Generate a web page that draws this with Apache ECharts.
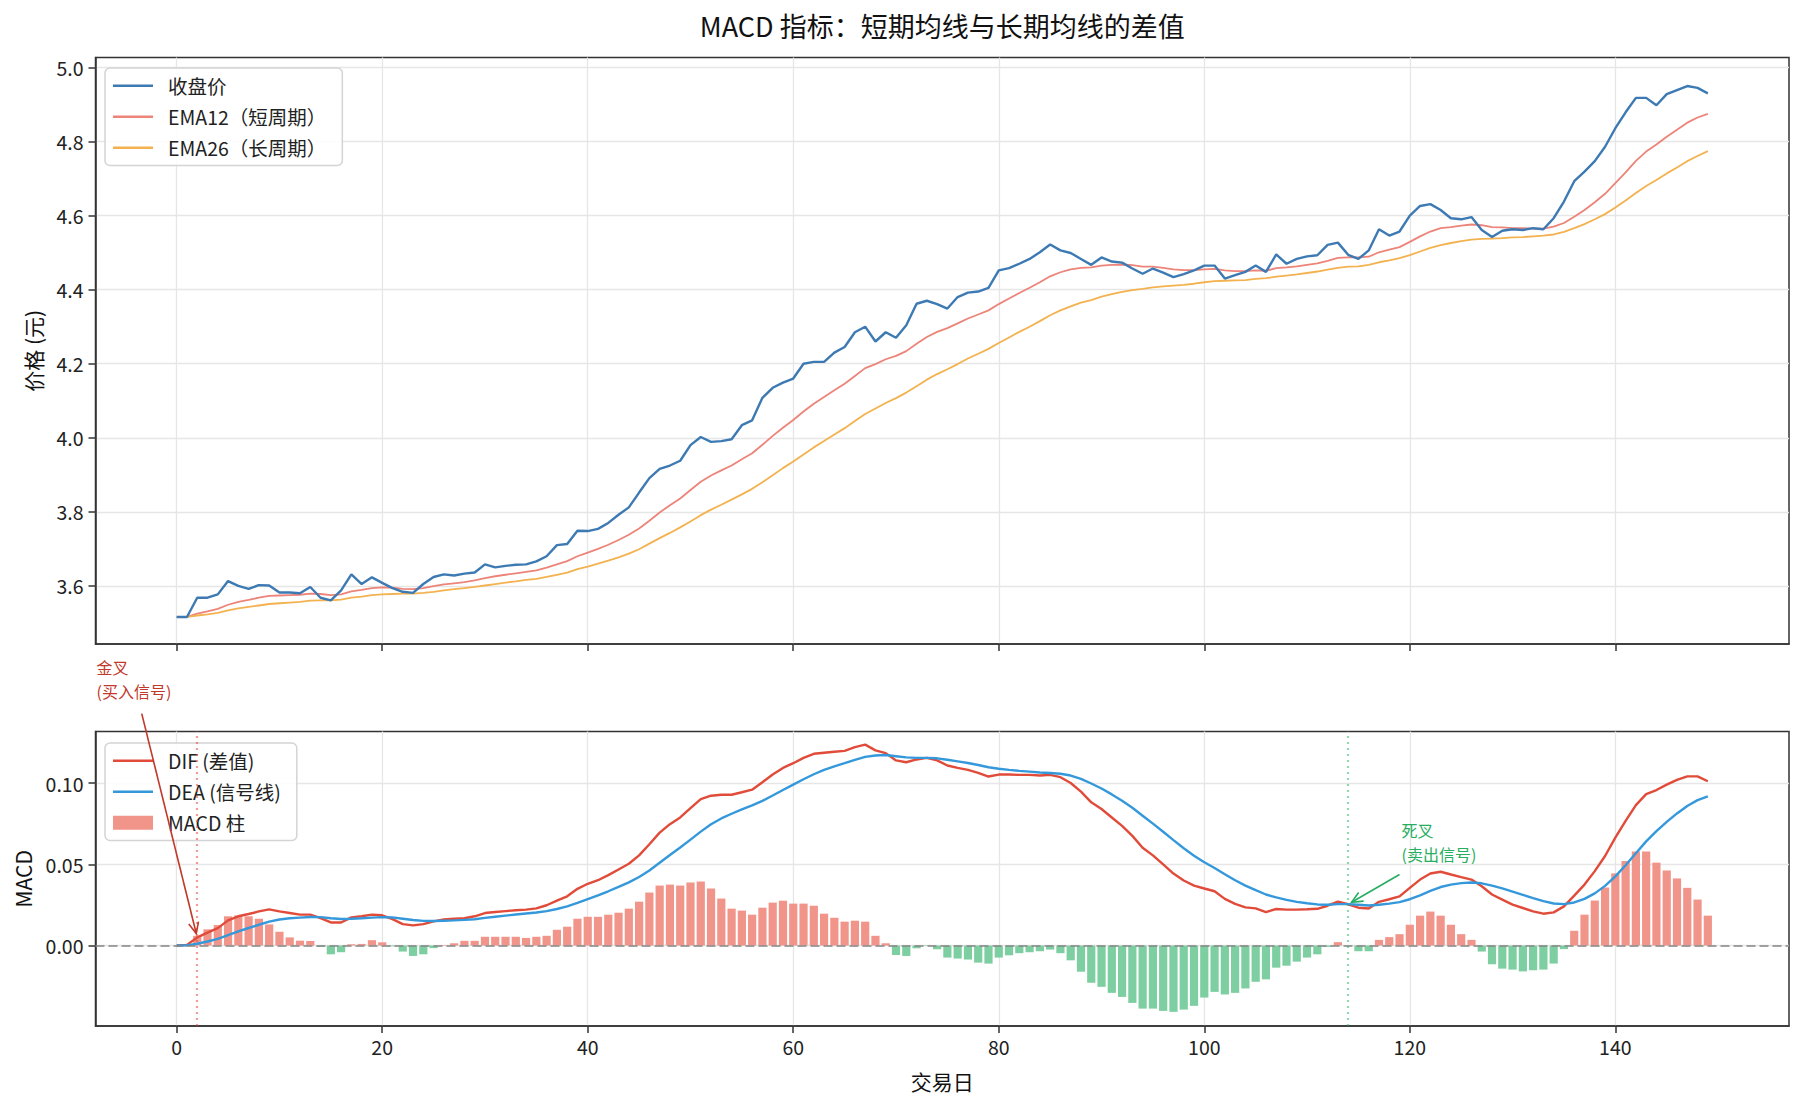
<!DOCTYPE html>
<html><head><meta charset="utf-8">
<script src="https://cdn.jsdelivr.net/npm/echarts@6/dist/echarts.min.js"></script>
<style>html,body{margin:0;padding:0;background:#fff}#c{width:1804px;height:1104px}</style>
</head><body><div id="c"></div>
<script>
// ---------------- data ----------------
const days = [0,1,2,3,4,5,6,7,8,9,10,11,12,13,14,15,16,17,18,19,20,21,22,23,24,25,26,27,28,29,
30,31,32,33,34,35,36,37,38,39,40,41,42,43,44,45,46,47,48,49,50,51,52,53,54,55,56,57,58,59,
60,61,62,63,64,65,66,67,68,69,70,71,72,73,74,75,76,77,78,79,80,81,82,83,84,85,86,87,88,89,
90,91,92,93,94,95,96,97,98,99,100,101,102,103,104,105,106,107,108,109,110,111,112,113,114,115,116,117,118,119,
120,121,122,123,124,125,126,127,128,129,130,131,132,133,134,135,136,137,138,139,140,141,142,143,144,145,146,147,148,149];

const closePrice = [3.516,3.516,3.568,3.568,3.577,3.613,3.600,3.592,3.602,3.601,
3.582,3.582,3.580,3.597,3.568,3.561,3.588,3.631,3.605,3.623,
3.608,3.594,3.584,3.581,3.605,3.624,3.631,3.628,3.633,3.636,
3.658,3.650,3.654,3.657,3.658,3.666,3.680,3.710,3.713,3.749,
3.748,3.754,3.770,3.792,3.812,3.852,3.891,3.916,3.925,3.938,
3.980,4.002,3.989,3.991,3.996,4.034,4.047,4.108,4.135,4.149,
4.160,4.200,4.205,4.205,4.230,4.245,4.285,4.300,4.260,4.285,
4.270,4.304,4.362,4.370,4.361,4.349,4.380,4.392,4.395,4.405,
4.452,4.458,4.470,4.483,4.501,4.522,4.506,4.499,4.483,4.467,
4.487,4.476,4.473,4.457,4.443,4.457,4.446,4.434,4.442,4.452,
4.465,4.465,4.430,4.439,4.448,4.465,4.448,4.495,4.470,4.483,
4.490,4.493,4.521,4.527,4.494,4.483,4.506,4.563,4.546,4.557,
4.600,4.626,4.631,4.615,4.593,4.590,4.596,4.561,4.542,4.559,
4.563,4.561,4.566,4.563,4.593,4.638,4.693,4.719,4.747,4.786,
4.836,4.879,4.918,4.918,4.898,4.928,4.939,4.950,4.945,4.930];

const ema12 = [3.516,3.516,3.525,3.531,3.538,3.549,3.557,3.562,3.568,3.573,
3.574,3.575,3.576,3.579,3.578,3.575,3.577,3.585,3.589,3.594,
3.596,3.595,3.592,3.591,3.594,3.599,3.604,3.607,3.610,3.615,
3.621,3.626,3.630,3.634,3.638,3.642,3.649,3.658,3.667,3.680,
3.690,3.700,3.711,3.724,3.738,3.755,3.776,3.798,3.818,3.836,
3.859,3.881,3.898,3.912,3.925,3.942,3.958,3.981,4.005,4.027,
4.048,4.071,4.092,4.110,4.128,4.146,4.167,4.188,4.199,4.212,
4.221,4.234,4.254,4.272,4.286,4.296,4.309,4.322,4.333,4.344,
4.361,4.376,4.391,4.405,4.420,4.436,4.447,4.455,4.459,4.460,
4.465,4.467,4.468,4.466,4.462,4.462,4.459,4.455,4.453,4.453,
4.455,4.456,4.452,4.450,4.450,4.452,4.451,4.458,4.460,4.463,
4.467,4.471,4.478,4.486,4.487,4.487,4.489,4.501,4.508,4.515,
4.529,4.544,4.557,4.566,4.569,4.573,4.576,4.574,4.569,4.568,
4.566,4.566,4.565,4.565,4.570,4.580,4.597,4.615,4.636,4.659,
4.688,4.717,4.748,4.773,4.792,4.813,4.832,4.851,4.865,4.875];

const ema26 = [3.516,3.516,3.520,3.523,3.527,3.534,3.539,3.543,3.547,3.551,
3.553,3.555,3.557,3.560,3.561,3.561,3.563,3.568,3.571,3.575,
3.577,3.578,3.579,3.579,3.581,3.584,3.588,3.591,3.594,3.597,
3.601,3.605,3.609,3.612,3.616,3.619,3.624,3.630,3.636,3.645,
3.652,3.660,3.668,3.677,3.687,3.699,3.714,3.729,3.743,3.758,
3.774,3.791,3.806,3.819,3.833,3.847,3.862,3.880,3.899,3.918,
3.936,3.955,3.974,3.991,4.009,4.026,4.045,4.064,4.079,4.094,
4.107,4.122,4.139,4.157,4.172,4.185,4.199,4.214,4.227,4.240,
4.256,4.271,4.286,4.300,4.315,4.331,4.344,4.355,4.365,4.372,
4.381,4.388,4.394,4.399,4.402,4.406,4.409,4.411,4.413,4.416,
4.420,4.423,4.424,4.425,4.426,4.429,4.431,4.435,4.438,4.441,
4.445,4.449,4.454,4.459,4.462,4.463,4.467,4.474,4.479,4.485,
4.493,4.503,4.513,4.520,4.526,4.531,4.535,4.537,4.538,4.539,
4.541,4.542,4.544,4.546,4.549,4.556,4.566,4.577,4.590,4.604,
4.622,4.641,4.661,4.680,4.696,4.714,4.730,4.747,4.761,4.774];

const dif = [0,0.0004,0.005,0.008,0.0107,0.0155,0.018,0.0194,0.021,0.0223,
0.021,0.020,0.019,0.019,0.0169,0.0142,0.0142,0.0173,0.018,0.019,
0.0186,0.0163,0.0132,0.0124,0.0132,0.0149,0.016,0.0165,0.0168,0.018,
0.020,0.0206,0.0212,0.0217,0.0221,0.0229,0.0248,0.0276,0.0303,0.0349,
0.038,0.0402,0.0433,0.0468,0.0503,0.0555,0.0623,0.0695,0.0747,0.0788,
0.0846,0.0901,0.0922,0.0928,0.0928,0.0943,0.0959,0.1005,0.1052,0.1093,
0.1122,0.1155,0.118,0.1186,0.1192,0.1198,0.1221,0.1236,0.1201,0.1184,
0.1139,0.1128,0.1145,0.1155,0.1139,0.1108,0.1093,0.1081,0.1062,0.104,
0.1052,0.1052,0.105,0.105,0.1046,0.105,0.1036,0.100,0.0947,0.0881,
0.084,0.0788,0.0736,0.0675,0.0602,0.0555,0.0499,0.0443,0.040,0.0369,
0.0351,0.0334,0.0287,0.0256,0.0235,0.0229,0.0206,0.0225,0.0221,0.0221,
0.0223,0.0226,0.0245,0.027,0.0254,0.0233,0.0228,0.0269,0.0285,0.0303,
0.0355,0.0406,0.0443,0.0454,0.0437,0.0421,0.0406,0.0365,0.0314,0.0283,
0.0252,0.0231,0.021,0.0196,0.0204,0.0241,0.0307,0.0375,0.0458,0.0551,
0.0664,0.0767,0.0864,0.0932,0.0957,0.099,0.1019,0.1041,0.1041,0.1011];

const dea = [0,0.0001,0.0011,0.0025,0.0041,0.0064,0.0087,0.0108,0.0128,0.0147,
0.016,0.0168,0.0172,0.0176,0.0175,0.0168,0.0163,0.0165,0.0168,0.0172,
0.0175,0.0173,0.0165,0.0157,0.0152,0.0151,0.0153,0.0155,0.0158,0.0162,
0.017,0.0177,0.0184,0.0191,0.0197,0.0203,0.0212,0.0225,0.0241,0.0263,
0.0286,0.0309,0.0334,0.0361,0.0389,0.0422,0.0462,0.0509,0.0557,0.0603,
0.0652,0.0701,0.0746,0.0782,0.0811,0.0838,0.0862,0.089,0.0923,0.0957,
0.099,0.1023,0.1054,0.1081,0.1103,0.1122,0.1142,0.1161,0.1169,0.1172,
0.1165,0.1158,0.1155,0.1155,0.1152,0.1143,0.1133,0.1123,0.1111,0.1097,
0.1088,0.1081,0.1075,0.107,0.1065,0.1062,0.1057,0.1046,0.1026,0.0997,
0.0966,0.093,0.0891,0.0848,0.0799,0.075,0.07,0.0649,0.0599,0.0553,
0.0513,0.0477,0.0439,0.0402,0.0369,0.0341,0.0314,0.0296,0.0281,0.0269,
0.026,0.0253,0.0251,0.0255,0.0255,0.0251,0.0246,0.0251,0.0258,0.0267,
0.0285,0.0309,0.0336,0.036,0.0375,0.0384,0.0388,0.0383,0.0369,0.0352,
0.0332,0.0312,0.0292,0.0273,0.0259,0.0255,0.0265,0.0287,0.0321,0.0367,
0.0426,0.0494,0.0568,0.0641,0.0704,0.0761,0.0813,0.0859,0.0895,0.0918];

const macdHist = [0,0.0005,0.006,0.010,0.0126,0.018,0.0186,0.018,0.0165,0.013,
0.0085,0.005,0.003,0.0028,-0.0008,-0.0054,-0.0041,0.0008,0.001,0.0033,
0.002,-0.0005,-0.0037,-0.0064,-0.0054,-0.0016,0.0003,0.0014,0.0029,0.0029,
0.0054,0.0054,0.0054,0.0054,0.0047,0.0054,0.006,0.0097,0.0116,0.0165,
0.0177,0.0177,0.019,0.0202,0.0227,0.027,0.0326,0.0369,0.0375,0.0369,
0.0388,0.0394,0.0351,0.0289,0.0227,0.0215,0.019,0.0233,0.0264,0.0276,
0.0258,0.0258,0.0245,0.0196,0.0171,0.0147,0.0153,0.0147,0.006,0.0014,
-0.0058,-0.0064,-0.0017,-0.0003,-0.0023,-0.0074,-0.008,-0.0086,-0.0105,-0.0111,
-0.0074,-0.006,-0.0047,-0.0041,-0.0035,-0.0025,-0.0047,-0.0091,-0.0161,-0.0229,
-0.0254,-0.0291,-0.0316,-0.0353,-0.0388,-0.0388,-0.0402,-0.0408,-0.0394,-0.0371,
-0.032,-0.0285,-0.0301,-0.0291,-0.0264,-0.0223,-0.0208,-0.0136,-0.0124,-0.0099,
-0.0074,-0.0054,-0.0008,0.0021,-0.0001,-0.0035,-0.0035,0.0035,0.0052,0.007,
0.0128,0.0184,0.0209,0.0184,0.0128,0.007,0.0035,-0.0037,-0.0115,-0.0142,
-0.0148,-0.0159,-0.0152,-0.0148,-0.0111,-0.0022,0.0091,0.019,0.0277,0.0357,
0.0444,0.052,0.0578,0.0578,0.051,0.0462,0.0413,0.0355,0.0283,0.0184];

const dayTicks = [0,20,40,60,80,100,120,140];
const priceTicks = [3.6,3.8,4.0,4.2,4.4,4.6,4.8,5.0];
const macdTicks = [0,0.05,0.10];
const goldenCrossDay = 2;
const deathCrossDay = 114;

// annotation anchors (data coords of the bottom panel)
const goldenTextAt = [-7.8, 0.149];
const goldenArrowFrom = [-3.4, 0.1427];
const deathTextAt = [119.2, 0.0489];
const deathArrowFrom = [119.0, 0.0437];

// ---------------- chart ----------------
const FONT = '"Noto Sans CJK SC", "Noto Sans", sans-serif';
const chart = echarts.init(document.getElementById('c'), null, {renderer: 'svg', width: 1804, height: 1104});
const pair = arr => days.map((d, i) => [d, arr[i]]);

const GRID_L = 95.5, GRID_W = 1693.5;
const X_MIN = -7.9, X_MAX = 156.9;
const POS = '#f1948a', NEG = '#7dcea0';
const LINE_ICON = 'path://M0,0H40V2.4H0Z';
const RECT_ICON = 'path://M0,0H40V14H0Z';
const TICK_STYLE = {color: '#333', width: 1.5};
const SPLIT = {show: true, lineStyle: {color: '#e6e6e6', width: 1.3}};
const LABEL = {fontSize: 19.5, color: '#222', fontFamily: FONT};

function xAxisCfg(gi, labels) {
  return {
    type: 'value', gridIndex: gi, min: X_MIN, max: X_MAX, splitNumber: 8, minInterval: 20, maxInterval: 20,
    axisLine: {show: true, onZero: false, lineStyle: TICK_STYLE},
    axisTick: {show: true, length: 7, lineStyle: TICK_STYLE, customValues: dayTicks},
    axisLabel: Object.assign({show: labels, margin: 11, customValues: dayTicks, formatter: v => String(v)}, LABEL),
    splitLine: SPLIT,
    name: labels ? '交易日' : '', nameLocation: 'middle', nameGap: 44,
    nameTextStyle: {fontSize: 21, color: '#111', fontFamily: FONT}
  };
}
function yAxisCfg(gi, min, max, step, ticks, dec, name, gap) {
  return {
    type: 'value', gridIndex: gi, min: min, max: max, splitNumber: Math.round((max - min) / step),
    minInterval: step, maxInterval: step,
    axisLine: {show: true, onZero: false, lineStyle: TICK_STYLE},
    axisTick: {show: true, length: 7, lineStyle: TICK_STYLE, customValues: ticks},
    axisLabel: Object.assign({margin: 12, customValues: ticks, formatter: v => v.toFixed(dec)}, LABEL),
    splitLine: SPLIT,
    name: name, nameLocation: 'middle', nameGap: gap, nameRotate: 90,
    nameTextStyle: {fontSize: 21, color: '#111', fontFamily: FONT}
  };
}

const legendBase = {
  orient: 'vertical', itemWidth: 40, itemHeight: 14, itemGap: 11.5,
  padding: [8, 16, 8, 8], backgroundColor: 'rgba(255,255,255,0.85)',
  borderColor: '#d4d4d4', borderWidth: 1.5, borderRadius: 5, selectedMode: false,
  textStyle: {fontSize: 19.5, color: '#222', fontFamily: FONT, padding: [0, 0, 0, 10]},
  itemStyle: {borderWidth: 0}, lineStyle: {width: 0}
};

const vLine = (x, color) => ({xAxis: x, lineStyle: {color: color, type: [2, 4], width: 2.2}});

const option = {
  animation: false,
  backgroundColor: '#ffffff',
  textStyle: {fontFamily: FONT},
  grid: [
    {left: GRID_L, top: 57.5, width: GRID_W, height: 586.5, show: true, borderColor: '#333', borderWidth: 1.5, backgroundColor: 'transparent'},
    {left: GRID_L, top: 731.5, width: GRID_W, height: 294.5, show: true, borderColor: '#333', borderWidth: 1.5, backgroundColor: 'transparent'}
  ],
  xAxis: [xAxisCfg(0, false), xAxisCfg(1, true)],
  yAxis: [
    yAxisCfg(0, 3.443, 5.027, 0.2, priceTicks, 1, '价格 (元)', 52),
    yAxisCfg(1, -0.0495, 0.1317, 0.05, macdTicks, 2, 'MACD', 62)
  ],
  legend: [
    Object.assign({}, legendBase, {left: 105, top: 68,
      data: [{name: '收盘价', icon: LINE_ICON}, {name: 'EMA12（短周期）', icon: LINE_ICON}, {name: 'EMA26（长周期）', icon: LINE_ICON}]}),
    Object.assign({}, legendBase, {left: 105, top: 743,
      data: [{name: 'DIF (差值)', icon: LINE_ICON}, {name: 'DEA (信号线)', icon: LINE_ICON}, {name: 'MACD 柱', icon: RECT_ICON}]})
  ],
  series: [
    {name: '收盘价', type: 'line', xAxisIndex: 0, yAxisIndex: 0, data: pair(closePrice), showSymbol: false, z: 4,
     color: '#3d7ab3', lineStyle: {width: 2.4, color: '#3d7ab3'}},
    {name: 'EMA12（短周期）', type: 'line', xAxisIndex: 0, yAxisIndex: 0, data: pair(ema12), showSymbol: false, z: 3,
     color: '#ec8479', lineStyle: {width: 1.8, color: '#ec8479'}},
    {name: 'EMA26（长周期）', type: 'line', xAxisIndex: 0, yAxisIndex: 0, data: pair(ema26), showSymbol: false, z: 3,
     color: '#f3b24f', lineStyle: {width: 1.8, color: '#f3b24f'}},
    {name: 'MACD 柱', type: 'bar', xAxisIndex: 1, yAxisIndex: 1, barWidth: 8.2, z: 2,
     color: POS, itemStyle: {color: POS},
     data: macdHist.map((v, i) => ({value: [days[i], v], itemStyle: {color: v >= 0 ? POS : NEG}})),
     markLine: {silent: true, symbol: 'none', label: {show: false}, animation: false,
       data: [
         {yAxis: 0, lineStyle: {color: '#858585', type: [9, 4], width: 1.5}},
         vLine(goldenCrossDay, 'rgba(231,76,60,0.55)'),
         vLine(deathCrossDay, 'rgba(39,174,96,0.5)')
       ]}},
    {name: 'DIF (差值)', type: 'line', xAxisIndex: 1, yAxisIndex: 1, data: pair(dif), showSymbol: false, z: 4,
     color: '#e14b39', lineStyle: {width: 2.4, color: '#e14b39'}},
    {name: 'DEA (信号线)', type: 'line', xAxisIndex: 1, yAxisIndex: 1, data: pair(dea), showSymbol: false, z: 4,
     color: '#3498db', lineStyle: {width: 2.4, color: '#3498db'}}
  ]
};
chart.setOption(option);

// ---------------- annotations (positioned through the axes) ----------------
const px = p => chart.convertToPixel({xAxisIndex: 1, yAxisIndex: 1}, p);
function arrow(from, to, color) {
  const dx = to[0] - from[0], dy = to[1] - from[1], L = Math.hypot(dx, dy);
  const ux = dx / L, uy = dy / L;
  const tip = [to[0] - ux * 4, to[1] - uy * 4];
  const hl = 11, hw = 5;
  const bx = tip[0] - ux * hl, by = tip[1] - uy * hl;
  return [
    {type: 'line', z: 50, shape: {x1: from[0], y1: from[1], x2: tip[0], y2: tip[1]}, style: {stroke: color, lineWidth: 1.6}},
    {type: 'polyline', z: 50, shape: {points: [[bx - uy * hw, by + ux * hw], tip, [bx + uy * hw, by - ux * hw]]},
     style: {stroke: color, lineWidth: 1.6, fill: null}}
  ];
}
const gT = px(goldenTextAt), gF = px(goldenArrowFrom), gP = px([goldenCrossDay, dif[goldenCrossDay]]);
const dT = px(deathTextAt), dF = px(deathArrowFrom), dP = px([deathCrossDay, dif[deathCrossDay]]);
const graphics = [
  {type: 'text', x: GRID_L + GRID_W / 2, y: 25, z: 50,
   style: {text: 'MACD 指标：短期均线与长期均线的差值', fill: '#111', fontSize: 27, fontFamily: FONT, align: 'center', verticalAlign: 'middle'}},
  {type: 'text', x: gT[0], y: gT[1], z: 50,
   style: {text: '金叉\n(买入信号)', fill: '#c0392b', fontSize: 16, lineHeight: 24, fontFamily: FONT, align: 'left', verticalAlign: 'bottom'}},
  {type: 'text', x: dT[0], y: dT[1], z: 50,
   style: {text: '死叉\n(卖出信号)', fill: '#27ae60', fontSize: 16, lineHeight: 24, fontFamily: FONT, align: 'left', verticalAlign: 'bottom'}}
].concat(arrow(gF, gP, '#c0392b'), arrow(dF, dP, '#27ae60'));
chart.setOption({graphic: graphics});
</script>
</body></html>
